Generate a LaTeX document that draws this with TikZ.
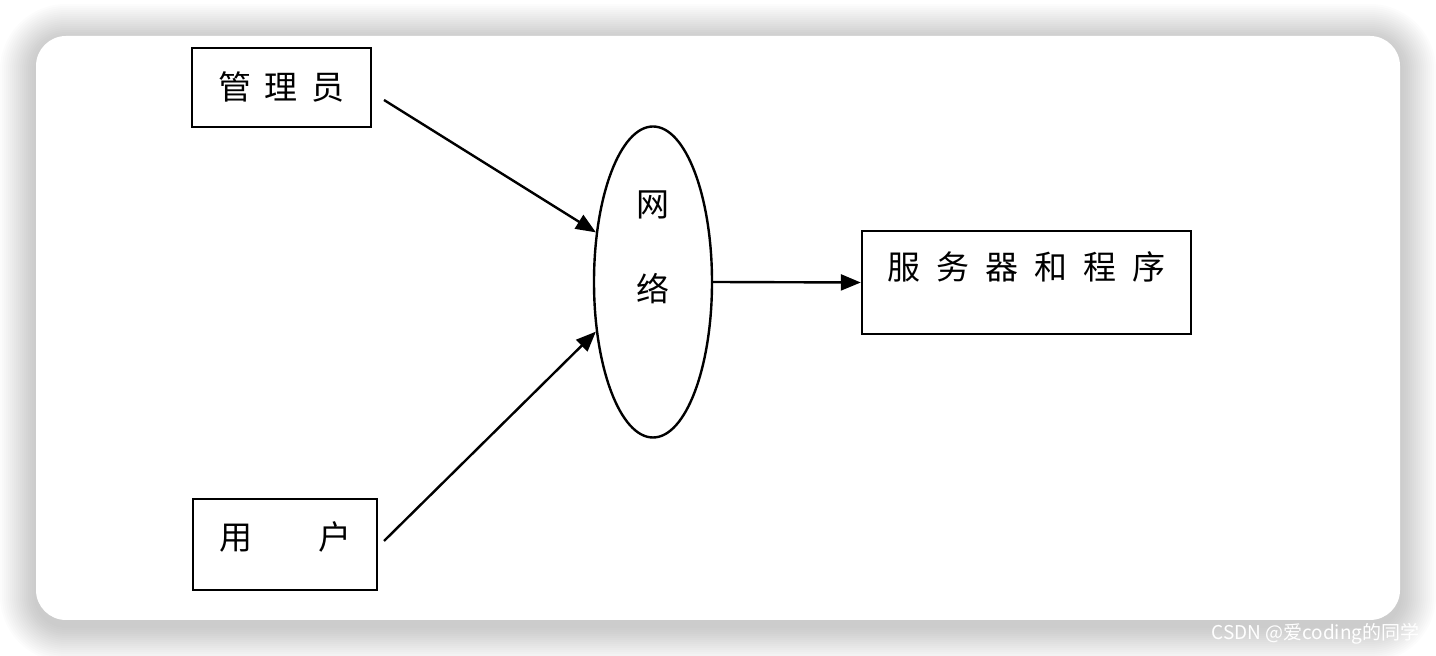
\documentclass[tikz,border=0pt]{standalone}
\usepackage{fontspec}
\newfontfamily\cjk{Noto Sans CJK SC}
\usetikzlibrary{shapes.geometric,arrows.meta,positioning}

\begin{document}
\begin{tikzpicture}[x=0.5pt,y=-0.5pt,
  box/.style={draw, line width=1.2pt, inner sep=0pt, font=\cjk\fontsize{16.5}{20}\selectfont, text height=14.5pt},
  glyph/.style={inner sep=0pt, font=\cjk\fontsize{16.5}{20}\selectfont},
  arr/.style={-{Triangle[length=10pt,width=8pt]}, line width=1.2pt}]
  \useasboundingbox (0,0) rectangle (1436,656);

  % Card with soft shadow
  \foreach \i [evaluate=\i as \r using 15+\i] in {1,...,18}
    \fill[black, opacity=0.011, rounded corners=\r pt] ({36-2*\i},{40-2*\i}) rectangle ({1400+2*\i},{626+2*\i});
  \fill[white, rounded corners=15pt] (36,36) rectangle (1400,620);

  % Boxes
  \node[box, minimum width=89.5pt, minimum height=39.5pt, text depth=2pt] (admin) at (281.5,87.5) {管\hspace{0.4em}理\hspace{0.4em}员};
  \node[box, minimum width=92pt, minimum height=45.5pt, text depth=9.5pt] (user) at (285,544.5) {用\hspace{2em}户};
  \node[box, minimum width=164.5pt, minimum height=51.5pt, text depth=17pt] (srv) at (1026.5,282.5) {服\hspace{0.48em}务\hspace{0.48em}器\hspace{0.48em}和\hspace{0.48em}程\hspace{0.48em}序};

  % Network
  \node[draw, ellipse, line width=1.2pt, inner sep=0pt, minimum width=59pt, minimum height=155.5pt] (net) at (653,282) {};
  \node[glyph] (net-top) at (653,205) {网};
  \node[glyph] (net-bot) at (653,289) {络};

  % Arrows
  \coordinate (admin-out) at (384,100);
  \coordinate (user-out) at (384,541);
  \draw[arr] (admin-out) -- (net.139);
  \draw[arr] (user-out) -- (net.221);
  \draw[arr] (net.east) -- (srv.west);

  % Watermark
  \node[anchor=west, inner sep=0pt, text=white, font=\cjk\fontsize{9.5}{11}\selectfont] (mark) at (1211,634) {CSDN @爱coding的同学};
\end{tikzpicture}
\end{document}
